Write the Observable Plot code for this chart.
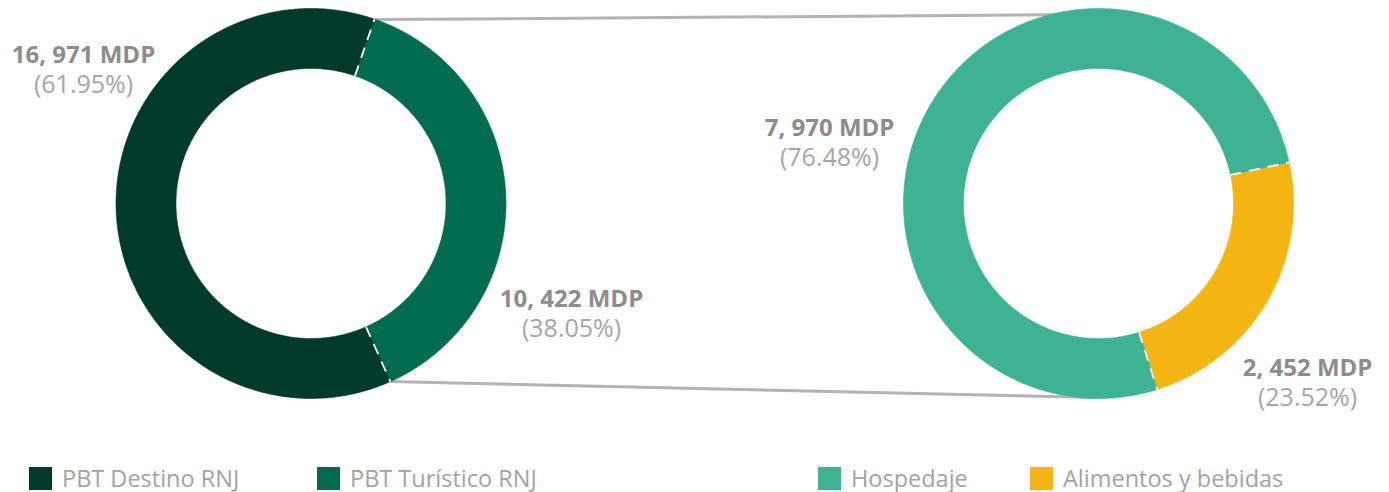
<!DOCTYPE html>
<html>
<head>
<meta charset="utf-8">
<script src="https://cdn.jsdelivr.net/npm/d3@7"></script>
<script src="https://cdn.jsdelivr.net/npm/@observablehq/plot@0.6"></script>
<style>
  html, body { margin: 0; padding: 0; background: #fff; }
  body { font-family: "Open Sans", sans-serif; width: 1389px; height: 492px; position: relative; overflow: hidden; }
  #chart { position: absolute; left: 0; top: 0; }
  .legend-item { position: absolute; top: 462px; display: flex; align-items: center; font-size: 23.5px; color: #a3a3a3; white-space: nowrap; }
  .legend-item .sw { width: 23px; height: 23px; margin-right: 10px; }
</style>
</head>
<body>
<div id="chart"></div>
<div id="legend"></div>
<script>
// ---- data ----
const leftCategories = ["PBT Destino RNJ", "PBT Turístico RNJ"];
const leftValues = [16971, 10422];
const leftPercents = [61.95, 38.05];
const rightCategories = ["Hospedaje", "Alimentos y bebidas"];
const rightValues = [7970, 2452];
const rightPercents = [76.48, 23.52];

// ---- styles / layout ----
const leftColors = ["#023a2a", "#016b4f"];
const rightColors = ["#3db393", "#f5b614"];
const W = 1389, H = 450;
const rOuter = 195, rInner = 135;
const donuts = [
  {cx: 310.5, cy: 203, cats: leftCategories, vals: leftValues, pcts: leftPercents, colors: leftColors,
   first: 1, startDeg: 19, labelOffsets: [[-227.5, -140], [260.5, 104]]},
  {cx: 1098, cy: 203, cats: rightCategories, vals: rightValues, pcts: rightPercents, colors: rightColors,
   first: 1, startDeg: 77.8, labelOffsets: [[-269, -67], [209, 173]]}
];
const lineGap = 29;

const fmtVal = v => d3.format(",")(v).replace(",", ", ") + " MDP";
const fmtPct = p => "(" + p.toFixed(2) + "%)";
const pt = (d, deg, r) => {
  const a = deg * Math.PI / 180;
  return {x: d.cx + r * Math.sin(a), y: d.cy - r * Math.cos(a)};
};

// compute slices
const slices = [], seps = [], labels = [];
donuts.forEach(d => {
  const total = d3.sum(d.vals);
  const order = [d.first, ...d3.range(d.vals.length).filter(i => i !== d.first)];
  let a = d.startDeg;
  d.bounds = [];
  order.forEach(i => {
    const span = d.vals[i] / total * 360;
    const a0 = a, a1 = a + span;
    const pts = [];
    const n = Math.ceil(span / 0.5);
    for (let k = 0; k <= n; k++) pts.push(pt(d, a0 + (a1 - a0) * k / n, rOuter));
    for (let k = n; k >= 0; k--) pts.push(pt(d, a0 + (a1 - a0) * k / n, rInner));
    slices.push({pts, color: d.colors[i]});
    d.bounds.push(a0);
    a = a1;
    const [ox, oy] = d.labelOffsets[i];
    labels.push({x: d.cx + ox, y: d.cy + oy, val: fmtVal(d.vals[i]), pct: fmtPct(d.pcts[i])});
  });
  d.bounds.forEach(b => {
    const p1 = pt(d, b, rInner), p2 = pt(d, b, rOuter);
    seps.push({x1: p1.x, y1: p1.y, x2: p2.x, y2: p2.y});
  });
});

// connectors: from left highlighted slice edges to right donut top/bottom
const L = donuts[0], R = donuts[1];
const lTop = pt(L, L.bounds[0], rOuter), lBot = pt(L, L.bounds[1], rOuter);
const connectors = [
  {x1: lTop.x, y1: lTop.y + 0.5, x2: R.cx, y2: R.cy - rOuter + 6},
  {x1: lBot.x, y1: lBot.y, x2: R.cx, y2: R.cy + rOuter - 1}
];

const marks = [
  Plot.link(connectors, {x1: "x1", y1: "y1", x2: "x2", y2: "y2", stroke: "#b3b3b3", strokeWidth: 3})
];
slices.forEach(s => {
  marks.push(Plot.line(s.pts, {x: "x", y: "y", fill: s.color, stroke: s.color, strokeWidth: 0.6, curve: "linear-closed"}));
});
marks.push(Plot.link(seps, {x1: "x1", y1: "y1", x2: "x2", y2: "y2", stroke: "white", strokeWidth: 1.8, strokeDasharray: "11,8"}));
marks.push(Plot.text(labels, {x: "x", y: d => d.y - 8, text: "val", fontSize: 24, fontWeight: "bold", fill: "#8c8c8c", textAnchor: "middle", lineAnchor: "middle"}));
marks.push(Plot.text(labels, {x: "x", y: d => d.y - 8 + lineGap, text: "pct", fontSize: 25, fill: "#a6a6a6", textAnchor: "middle", lineAnchor: "middle"}));

const chart = Plot.plot({
  width: W, height: H,
  margin: 0,
  x: {domain: [0, W], range: [0, W], axis: null},
  y: {domain: [0, H], range: [0, H], axis: null},
  style: {fontFamily: "'Open Sans', sans-serif", background: "white", overflow: "visible"},
  marks
});
document.getElementById("chart").appendChild(chart);

// legend
const legendItems = [
  {label: leftCategories[0], color: leftColors[0], left: 29},
  {label: leftCategories[1], color: leftColors[1], left: 317},
  {label: rightCategories[0], color: rightColors[0], left: 818},
  {label: rightCategories[1], color: rightColors[1], left: 1030}
];
const lg = document.getElementById("legend");
legendItems.forEach(it => {
  const div = document.createElement("div");
  div.className = "legend-item";
  div.style.left = it.left + "px";
  div.innerHTML = `<span class="sw" style="background:${it.color}"></span><span>${it.label}</span>`;
  lg.appendChild(div);
});
</script>
</body>
</html>
